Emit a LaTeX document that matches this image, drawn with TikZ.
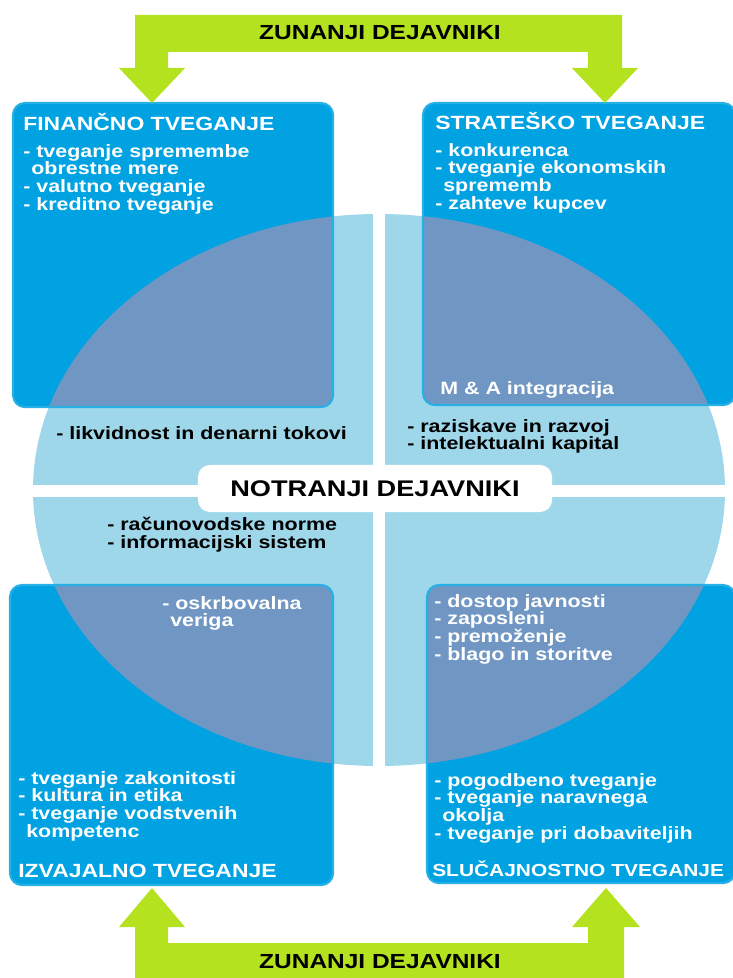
\documentclass[tikz,border=0pt]{standalone}
\usepackage{fontspec}
\setmainfont{Liberation Sans}[FakeStretch=1.2]
\usetikzlibrary{positioning}
\definecolor{riskblue}{RGB}{0,162,226}
\definecolor{overlapblue}{RGB}{112,150,196}
\definecolor{innerblue}{RGB}{158,215,234}
\definecolor{zungreen}{RGB}{181,226,30}
\tikzset{
  riskbox/.style={fill=riskblue, rounded corners=0.3cm, outer sep=0pt, inner sep=0pt},
  riskhead/.style={anchor=base west, inner sep=0pt, text=white, font=\bfseries\fontsize{13.6}{15}\selectfont},
  risklist/.style={anchor=north west, inner sep=0pt, align=left, text=white, font=\bfseries\fontsize{12.7}{12.6}\selectfont},
  innerlist/.style={risklist, text=black},
  zunlabel/.style={inner sep=0pt, font=\bfseries\fontsize{14.5}{16}\selectfont}
}
\newcommand{\ind}{\hspace*{0.45em}}
\begin{document}
\begin{tikzpicture}[x=0.025cm, y=-0.025cm]
\useasboundingbox (0,0) rectangle (732,978);
% inner factors: split ellipse
\fill[innerblue] (379,490) ellipse [x radius=346, y radius=276];
\fill[white] (373,200) rectangle (385,780);
\fill[white] (20,485) rectangle (740,497);
% four risk boxes
\node[riskbox, minimum width=8cm, minimum height=7.6cm, anchor=north west] (fin) at (13,103) {};
\node[riskbox, minimum width=7.8cm, minimum height=7.55cm, anchor=north west] (strat) at (423,103) {};
\node[riskbox, minimum width=8.075cm, minimum height=7.5cm, anchor=north west] (izv) at (10,585) {};
\node[riskbox, minimum width=7.7cm, minimum height=7.45cm, anchor=north west] (slu) at (427,585) {};
\begin{scope}
  \clip (379,490) ellipse [x radius=346, y radius=276];
  \foreach \b in {fin,strat,izv,slu}
    \fill[overlapblue, rounded corners=0.3cm] (\b.north west) rectangle (\b.south east);
\end{scope}
\foreach \b in {fin,strat,izv,slu}
  \draw[riskblue!85!white, line width=1.5pt, rounded corners=0.3cm] (\b.north west) rectangle (\b.south east);
% box texts
\node[riskhead] (finhead) at (23,131) {FINANČNO TVEGANJE};
\node[risklist] (finlist) at (23,144) {- tveganje spremembe\\\ind obrestne mere\\- valutno tveganje\\- kreditno tveganje};
\node[riskhead] (strathead) at (435,130) {STRATEŠKO TVEGANJE};
\node[risklist] (stratlist) at (435,143) {- konkurenca\\- tveganje ekonomskih\\\ind sprememb\\- zahteve kupcev};
\node[risklist, anchor=base west] (merger) at (440,394) {M \& A integracija};
\node[risklist] (supply) at (162,596) {- oskrbovalna\\\ind veriga};
\node[risklist] (izvlist) at (18,771) {- tveganje zakonitosti\\- kultura in etika\\- tveganje vodstvenih\\\ind kompetenc};
\node[riskhead] (izvhead) at (18,877) {IZVAJALNO TVEGANJE};
\node[risklist] (publist) at (434,594) {- dostop javnosti\\- zaposleni\\- premoženje\\- blago in storitve};
\node[risklist] (slulist) at (434,773) {- pogodbeno tveganje\\- tveganje naravnega\\\ind okolja\\- tveganje pri dobaviteljih};
\node[riskhead, font=\bfseries\fontsize{12.4}{14}\selectfont] (sluhead) at (432,876) {SLUČAJNOSTNO TVEGANJE};
% texts on the ellipse
\node[innerlist, anchor=base west] (liquid) at (56,439) {- likvidnost in denarni tokovi};
\node[innerlist] (research) at (407,419) {- raziskave in razvoj\\- intelektualni kapital};
\node[innerlist] (account) at (107,517) {- računovodske norme\\- informacijski sistem};
\node[fill=white, rounded corners=0.3cm, minimum width=8.85cm, minimum height=1.175cm,
      font=\bfseries\fontsize{16.1}{17}\selectfont] (inner) at (375,488.5) {NOTRANJI DEJAVNIKI};
% external factors: green arrows
\fill[zungreen] (135,15) -- (622,15) -- (622,68) -- (638,68) -- (605,103) -- (572,68) -- (588,68)
  -- (588,52) -- (168,52) -- (168,68) -- (185,68) -- (152,103) -- (119,68) -- (135,68) -- cycle;
\fill[zungreen] (135,985) -- (624,985) -- (624,927) -- (640,927) -- (606,888) -- (572,927) -- (588,927)
  -- (588,943) -- (168,943) -- (168,927) -- (185,927) -- (152,888) -- (119,927) -- (135,927) -- cycle;
\node[zunlabel] (zuntop) at (380,33) {ZUNANJI DEJAVNIKI};
\node[zunlabel] (zunbot) at (380,962) {ZUNANJI DEJAVNIKI};
\end{tikzpicture}
\end{document}
